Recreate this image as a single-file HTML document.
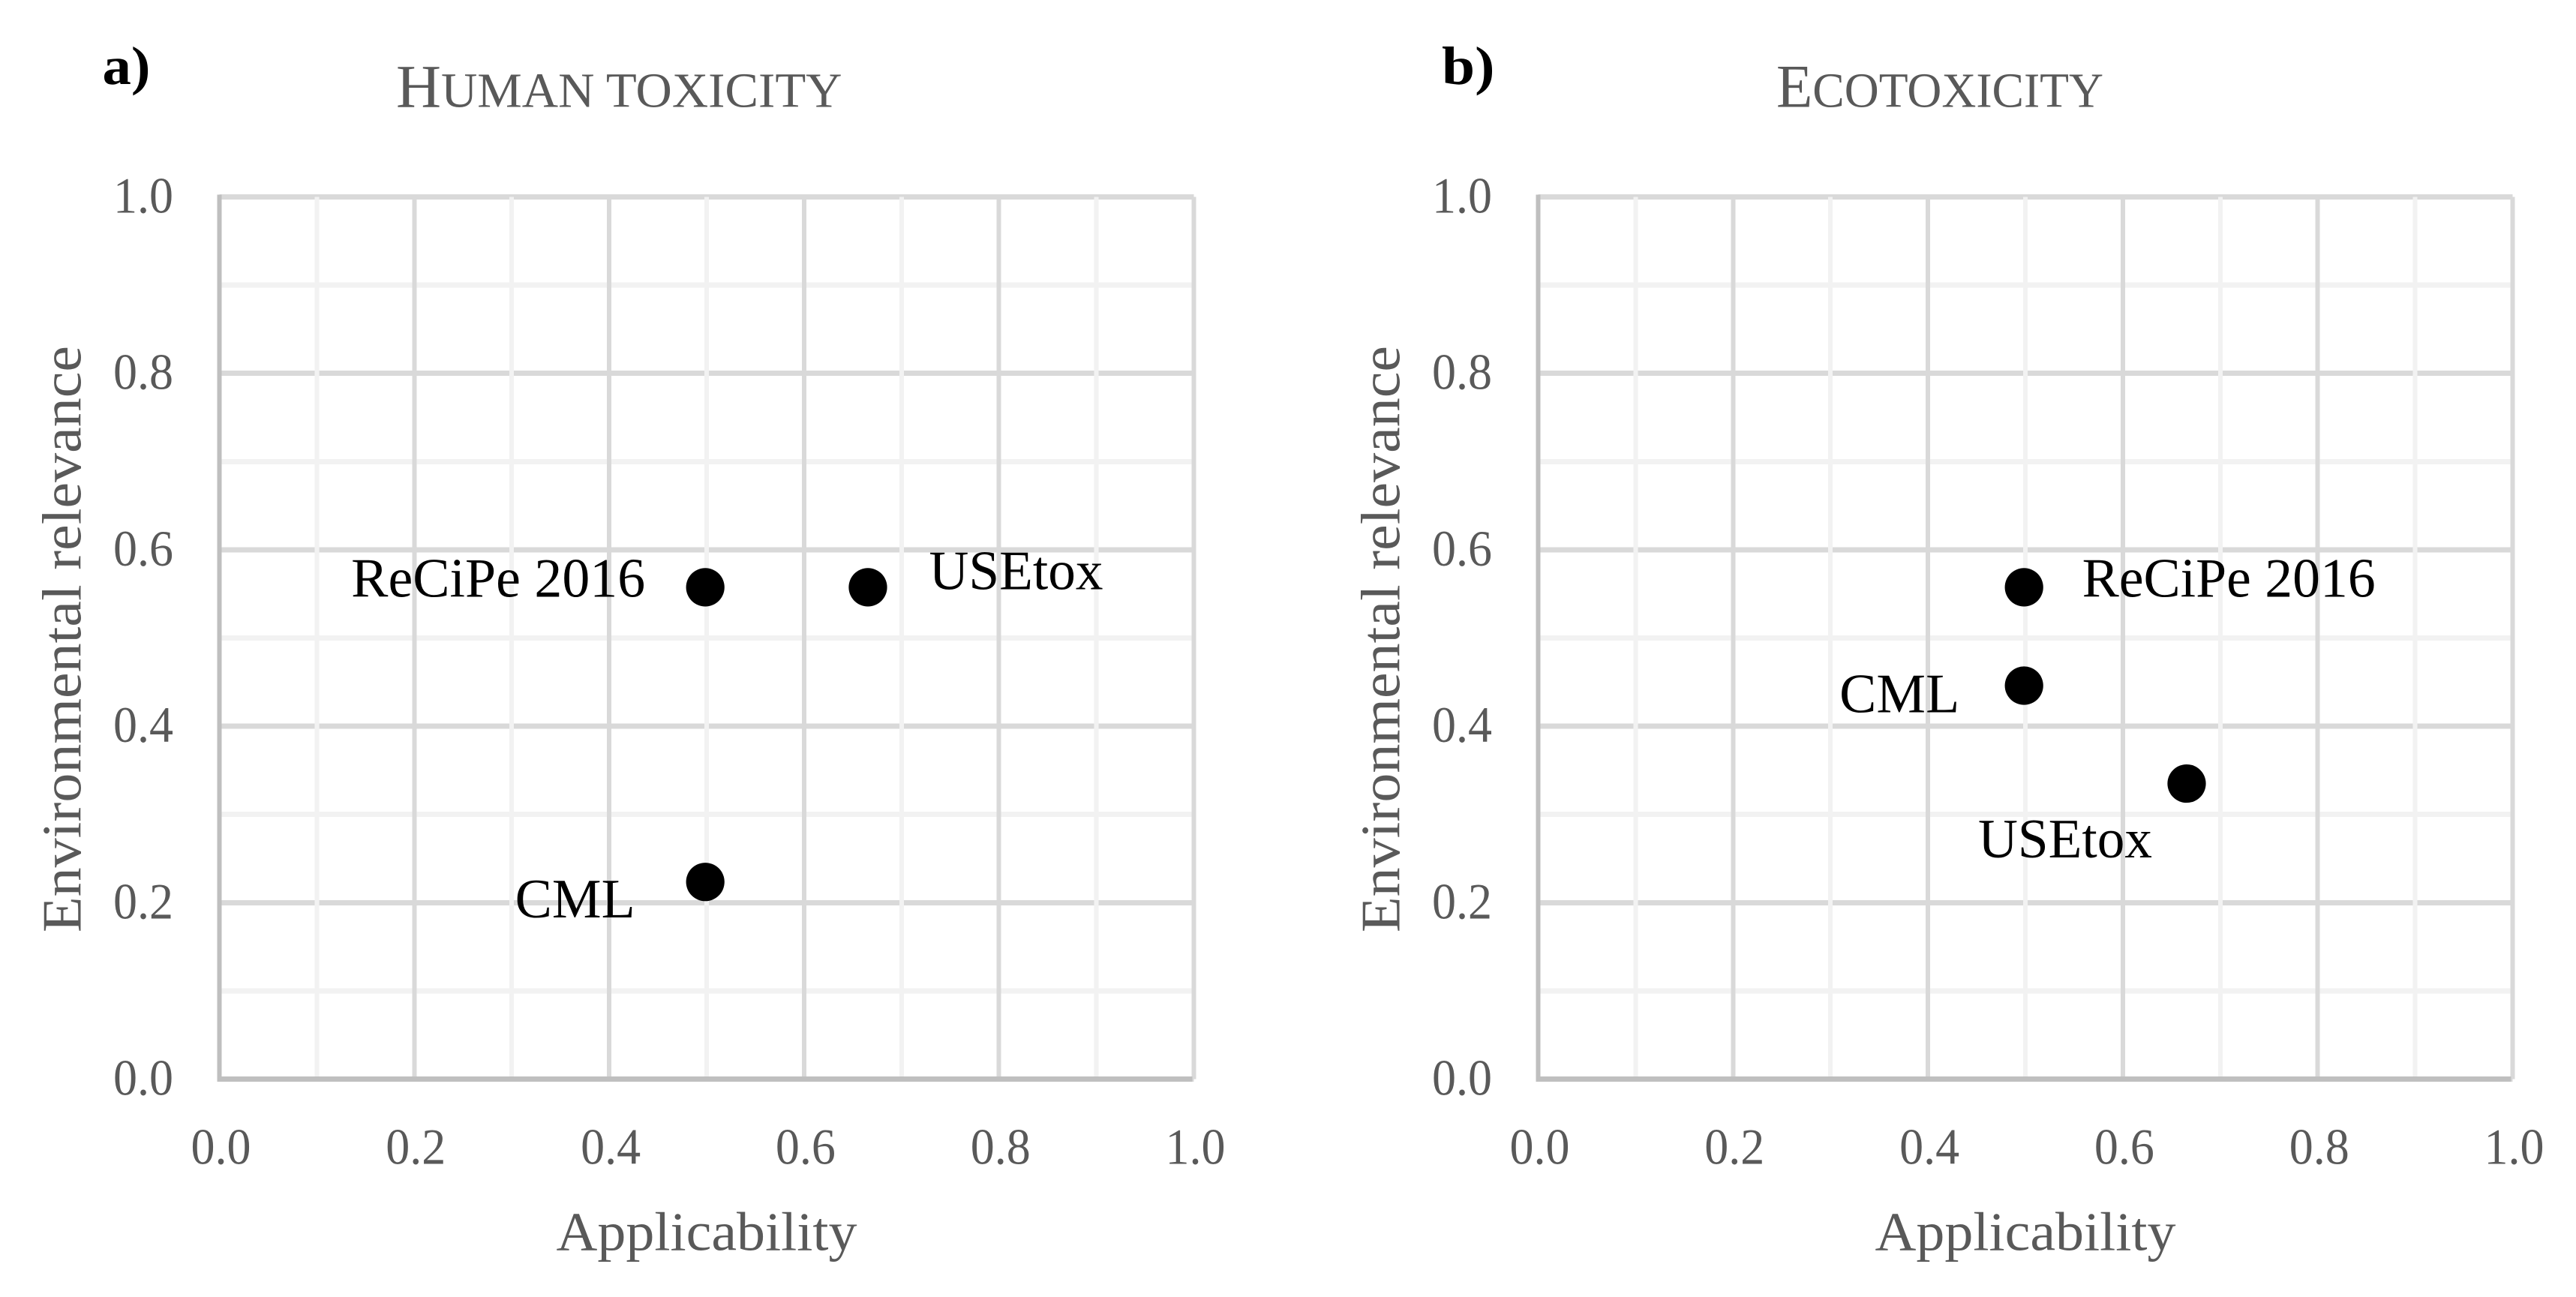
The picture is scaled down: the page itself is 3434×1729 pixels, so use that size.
<!DOCTYPE html>
<html lang="en">
<head>
<meta charset="utf-8">
<title>Human toxicity and ecotoxicity charts</title>
<style>
html,body{margin:0;padding:0;background:#fff;}
svg{display:block;}
text{font-family:"Liberation Serif",serif;}
line{shape-rendering:crispEdges;}
</style>
</head>
<body>
<svg id="figure" xmlns="http://www.w3.org/2000/svg" width="3434" height="1729" viewBox="0 0 3434 1729">
  <rect x="0" y="0" width="3434" height="1729" fill="#ffffff"/>
  <text x="136.5" y="112" font-size="72" font-weight="bold" fill="#000" textLength="64" lengthAdjust="spacingAndGlyphs">a)</text>
  <text x="1922" y="112" font-size="72" font-weight="bold" fill="#000" textLength="70.5" lengthAdjust="spacingAndGlyphs">b)</text>
  <text x="528" y="142.5" fill="#595959" font-size="66" textLength="594.5" lengthAdjust="spacingAndGlyphs"><tspan font-size="82">H</tspan>UMAN TOXICITY</text>
  <text x="2368" y="142.5" fill="#595959" font-size="66" textLength="436" lengthAdjust="spacingAndGlyphs"><tspan font-size="82">E</tspan>COTOXICITY</text>
  <g id="panel-a"></g>
  <g id="panel-b"></g>
</svg>
<script>
const majorTicks = [0, 0.2, 0.4, 0.6, 0.8, 1.0];
const minorTicks = [0.1, 0.3, 0.5, 0.7, 0.9];
const tickLabels = ['0.0', '0.2', '0.4', '0.6', '0.8', '1.0'];
const xAxisTitle = 'Applicability';
const yAxisTitle = 'Environmental relevance';

const humanMethods = ['ReCiPe 2016', 'USEtox', 'CML'];
const humanApplicability = [0.4986, 0.6655, 0.4986];
const humanRelevance = [0.5575, 0.5575, 0.2235];

const ecoMethods = ['ReCiPe 2016', 'CML', 'USEtox'];
const ecoApplicability = [0.4986, 0.4986, 0.6655];
const ecoRelevance = [0.5575, 0.446, 0.335];

const SVG_NS = 'http://www.w3.org/2000/svg';

function makePanel(groupId, left) {
  const top = 262.5, bottom = 1438.5, width = 1299;
  return {
    group: document.getElementById(groupId),
    left: left,
    right: left + width,
    top: top,
    bottom: bottom,
    sx: function (v) { return left + v * width; },
    sy: function (v) { return bottom - v * (bottom - top); }
  };
}

function makeLine(parent, x1, y1, x2, y2, color, w) {
  const el = document.createElementNS(SVG_NS, 'line');
  el.setAttribute('x1', x1);
  el.setAttribute('y1', y1);
  el.setAttribute('x2', x2);
  el.setAttribute('y2', y2);
  el.setAttribute('stroke', color);
  el.setAttribute('stroke-width', w);
  parent.appendChild(el);
  return el;
}

function makeText(parent, str, x, y, size, color, len, anchor) {
  const el = document.createElementNS(SVG_NS, 'text');
  el.setAttribute('x', x);
  el.setAttribute('y', y);
  el.setAttribute('font-size', size);
  el.setAttribute('fill', color);
  el.setAttribute('textLength', len);
  el.setAttribute('lengthAdjust', 'spacingAndGlyphs');
  if (anchor) el.setAttribute('text-anchor', anchor);
  el.textContent = str;
  parent.appendChild(el);
  return el;
}

function drawAxes(p) {
  const g = p.group;
  majorTicks.forEach(function (t) {
    const el = makeLine(g, p.left, p.sy(t), p.right, p.sy(t), '#d9d9d9', 7);
    
    
  });
  minorTicks.forEach(function (t) {
    const el = makeLine(g, p.left, p.sy(t), p.right, p.sy(t), '#f2f2f2', 7);
    
    
  });
  minorTicks.forEach(function (t) {
    const el = makeLine(g, p.sx(t), p.top, p.sx(t), p.bottom, '#f2f2f2', 6);
    
    
  });
  majorTicks.forEach(function (t) {
    const el = makeLine(g, p.sx(t), p.top, p.sx(t), p.bottom, '#d9d9d9', 6);
    
    
  });
  const yAxis = makeLine(g, p.left, p.top - 3, p.left, p.bottom + 3.5, '#bfbfbf', 6);
  
  
  const xAxis = makeLine(g, p.left - 3, p.bottom, p.right - 2, p.bottom, '#bfbfbf', 7);
  
  

  majorTicks.forEach(function (t, i) {
    const yLabel = makeText(g, tickLabels[i], p.left - 61.5, p.sy(t) + 21, 68, '#595959', 80, 'end');
    
    
    const xLabel = makeText(g, tickLabels[i], p.sx(t) + 2, 1551.5, 68, '#595959', 80, 'middle');
    
    
  });

  const xTitle = makeText(g, xAxisTitle, p.left + 449, 1666.5, 73, '#595959', 401);
  
  

  const yTitle = makeText(g, yAxisTitle, 0, 0, 74, '#595959', 782);
  yTitle.setAttribute('transform', 'translate(' + (p.left - 185) + ' 1243) rotate(-90)');
  
  
}

function drawPoint(p, xs, ys, names, i) {
  const c = document.createElementNS(SVG_NS, 'circle');
  c.setAttribute('cx', p.sx(xs[i]));
  c.setAttribute('cy', p.sy(ys[i]));
  c.setAttribute('r', 25.6);
  c.setAttribute('fill', '#000');
  
  
  p.group.appendChild(c);
}

function drawPointLabel(p, xs, ys, names, i, dx, dy, len) {
  const t = makeText(p.group, names[i], p.sx(xs[i]) + dx, p.sy(ys[i]) + dy, 74, '#000', len);
  
  
}

const panelA = makePanel('panel-a', 292.5);
drawAxes(panelA);
humanMethods.forEach(function (m, i) {
  drawPoint(panelA, humanApplicability, humanRelevance, humanMethods, i);
});
drawPointLabel(panelA, humanApplicability, humanRelevance, humanMethods, 0, -472, 12.5, 392);
drawPointLabel(panelA, humanApplicability, humanRelevance, humanMethods, 1, 81.5, 2.5, 232);
drawPointLabel(panelA, humanApplicability, humanRelevance, humanMethods, 2, -253.5, 47.5, 160);

const panelB = makePanel('panel-b', 2050.5);
drawAxes(panelB);
ecoMethods.forEach(function (m, i) {
  drawPoint(panelB, ecoApplicability, ecoRelevance, ecoMethods, i);
});
drawPointLabel(panelB, ecoApplicability, ecoRelevance, ecoMethods, 0, 77.5, 12.5, 391);
drawPointLabel(panelB, ecoApplicability, ecoRelevance, ecoMethods, 1, -246, 35.5, 160);
drawPointLabel(panelB, ecoApplicability, ecoRelevance, ecoMethods, 2, -278, 98.5, 232);
</script>
</body>
</html>
